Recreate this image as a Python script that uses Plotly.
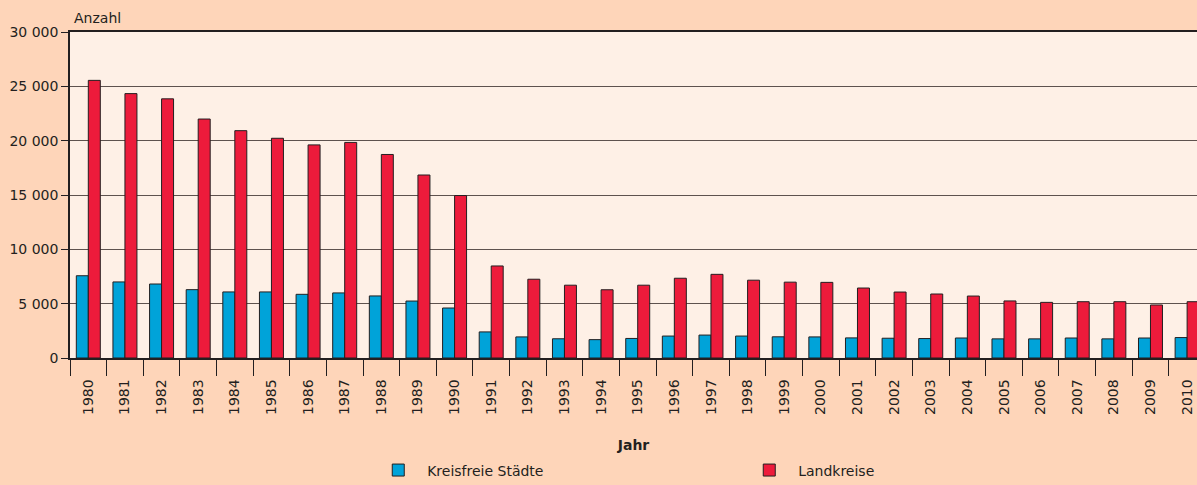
import plotly.graph_objects as go

years = [str(y) for y in range(1980, 2011)]

kreisfreie_staedte = [7570, 7000, 6810, 6290, 6080, 6080, 5860, 5990, 5710, 5240,
                      4600, 2400, 1940, 1770, 1690, 1800, 2020, 2110, 2020, 1950,
                      1940, 1850, 1820, 1790, 1840, 1760, 1760, 1840, 1760, 1840,
                      1880]
landkreise = [25550, 24330, 23850, 21990, 20920, 20220, 19610, 19840, 18730, 16840,
              14950, 8470, 7250, 6700, 6280, 6700, 7340, 7700, 7160, 6980,
              6960, 6440, 6070, 5890, 5700, 5250, 5120, 5180, 5180, 4880,
              5180]

font = "DejaVu Sans, Liberation Sans, Arial, sans-serif"
ink = "#231f20"

fig = go.Figure()
fig.add_trace(go.Bar(
    x=years, y=kreisfreie_staedte,
    name="\u00a0\u00a0Kreisfreie Städte",
    marker=dict(color="#00a3d9", line=dict(color=ink, width=1)),
))
fig.add_trace(go.Bar(
    x=years, y=landkreise,
    name="\u00a0\u00a0Landkreise",
    marker=dict(color="#ed1b3b", line=dict(color=ink, width=1)),
))

fig.update_layout(
    width=1197, height=485,
    margin=dict(l=70, r=0, t=32, b=127),
    paper_bgcolor="#fed5b9",
    plot_bgcolor="#fef0e6",
    font=dict(family=font, size=14, color=ink),
    barmode="group",
    bargap=0.345,
    bargroupgap=0,
    separators=", ",
    showlegend=True,
    legend=dict(
        orientation="h",
        xref="container", yref="container",
        x=0.316, y=0.03, xanchor="left", yanchor="middle",
        entrywidth=326, entrywidthmode="pixels",
        bgcolor="rgba(0,0,0,0)",
        font=dict(size=14),
    ),
    annotations=[dict(
        text="Anzahl", xref="paper", yref="paper", x=0, y=1,
        xanchor="left", yanchor="bottom", xshift=2, yshift=4,
        showarrow=False, font=dict(size=14),
    )],
)

fig.update_xaxes(
    type="category",
    range=[-0.5, 30.27],
    tickangle=-90,
    ticks="outside", ticklen=16, tickwidth=1, tickcolor=ink,
    tickson="boundaries",
    ticklabelstandoff=14,
    showline=True, linecolor=ink, linewidth=1.5, mirror=True,
    showgrid=False,
    title=dict(text="<b>Jahr</b>", standoff=26, font=dict(size=14)),
)
fig.update_yaxes(
    range=[0, 30000],
    dtick=5000,
    tickformat=",d",
    ticks="outside", ticklen=7, tickwidth=1, tickcolor=ink,
    showline=True, linecolor=ink, linewidth=1.5,
    showgrid=True, gridcolor="#5e524e", gridwidth=1,
    zeroline=False,
)

# drop the page's default body margin so the figure sits at the top-left
fig.write_html("out.html", config={"displayModeBar": False},
               post_script="document.body.style.margin='0';")
